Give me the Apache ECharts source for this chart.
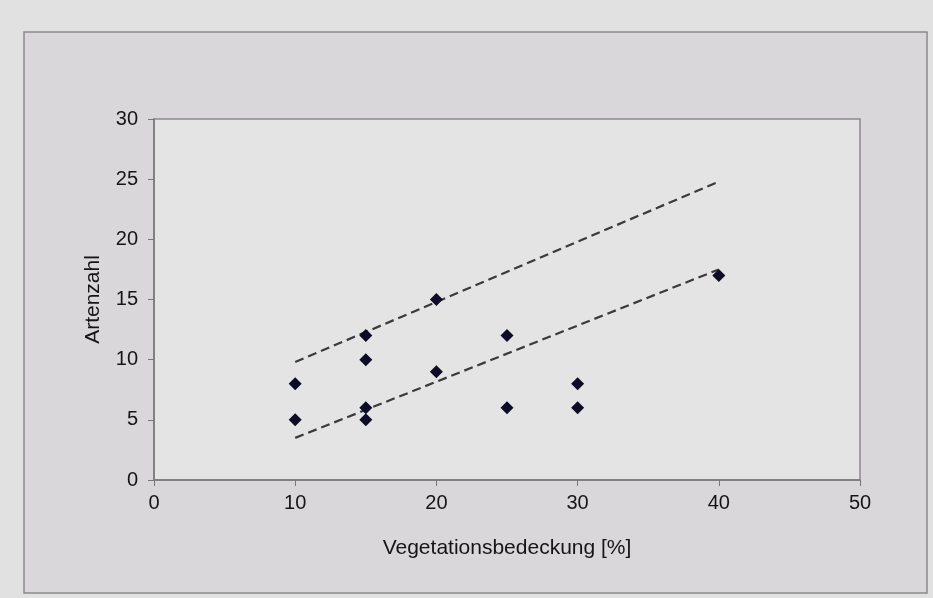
<!DOCTYPE html>
<html>
<head>
<meta charset="utf-8">
<script src="https://cdn.jsdelivr.net/npm/echarts@6/dist/echarts.min.js"></script>
<style>
  html, body { margin: 0; padding: 0; background: #e2e1e2; }
  #chart { width: 933px; height: 598px; }
</style>
</head>
<body>
<div id="chart"></div>
<script>
// Vegetationsbedeckung [%] vs. Artenzahl
var cover = [10, 10, 15, 15, 15, 15, 20, 20, 25, 25, 30, 30, 40];
var species = [8, 5, 12, 10, 6, 5, 15, 9, 12, 6, 8, 6, 17];
// dashed boundary lines (start / end)
var upperLine = [[10, 9.8], [40, 24.8]];
var lowerLine = [[10, 3.5], [40, 17.5]];

var points = cover.map(function (c, i) { return [c, species[i]]; });

var chart = echarts.init(document.getElementById('chart'));
var axisText = {color: '#151515', fontSize: 20, fontFamily: 'Liberation Sans, Arial, sans-serif'};
var nameText = {color: '#151515', fontSize: 21, fontFamily: 'Liberation Sans, Arial, sans-serif'};

chart.setOption({
    backgroundColor: '#e2e1e2',
    animation: false,
    graphic: [
        {
            type: 'rect',
            z: -10,
            shape: {x: 24, y: 32, width: 903, height: 561},
            style: {fill: '#dad7da', stroke: '#8c8a8c', lineWidth: 1.5}
        }
    ],
    grid: {
        left: 154, top: 119, width: 706, height: 361,
        show: true,
        backgroundColor: '#e4e4e4',
        borderColor: '#8a8a8a',
        borderWidth: 1.5
    },
    xAxis: {
        type: 'value',
        min: 0, max: 50, interval: 10,
        name: 'Vegetationsbedeckung [%]',
        nameLocation: 'middle',
        nameGap: 58,
        nameTextStyle: nameText,
        axisLine: {show: true, lineStyle: {color: '#777', width: 1.5}},
        axisTick: {show: true, length: 6, lineStyle: {color: '#777'}},
        axisLabel: Object.assign({margin: 13}, axisText),
        splitLine: {show: false}
    },
    yAxis: {
        type: 'value',
        min: 0, max: 30, interval: 5,
        name: 'Artenzahl',
        nameLocation: 'middle',
        nameGap: 50,
        nameTextStyle: nameText,
        axisLine: {show: true, lineStyle: {color: '#777', width: 1.5}},
        axisTick: {show: true, length: 6, lineStyle: {color: '#777'}},
        axisLabel: Object.assign({margin: 16}, axisText),
        splitLine: {show: false}
    },
    series: [
        {
            type: 'line',
            data: upperLine,
            symbol: 'none',
            lineStyle: {color: '#3a3a3a', width: 2.2, type: [9, 5]},
            z: 2
        },
        {
            type: 'line',
            data: lowerLine,
            symbol: 'none',
            lineStyle: {color: '#3a3a3a', width: 2.2, type: [9, 5]},
            z: 2
        },
        {
            type: 'scatter',
            data: points,
            symbol: 'diamond',
            symbolSize: 13,
            itemStyle: {color: '#0c0c28', opacity: 1},
            z: 3
        }
    ]
});
</script>
</body>
</html>
